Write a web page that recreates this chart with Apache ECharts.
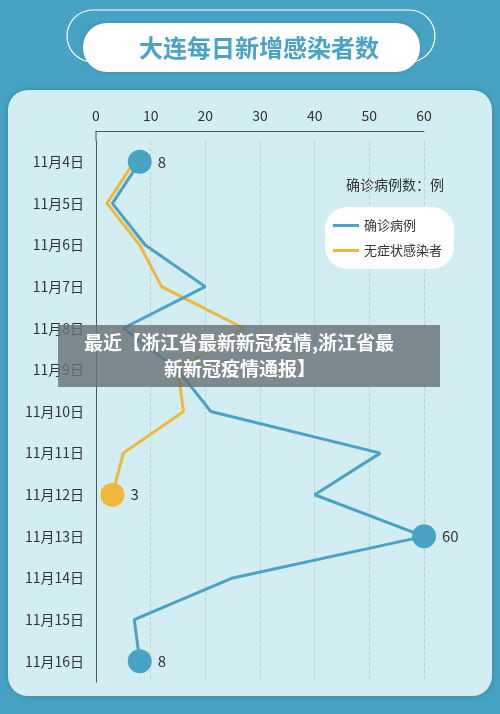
<!DOCTYPE html>
<html><head><meta charset="utf-8">
<script src="https://cdn.jsdelivr.net/npm/echarts@6/dist/echarts.min.js"></script>
<style>html,body{margin:0;padding:0;background:#47a3c4}#c{width:500px;height:714px}</style>
</head><body><div id="c"></div>
<script>
const categories=['11月4日','11月5日','11月6日','11月7日','11月8日','11月9日','11月10日','11月11日','11月12日','11月13日','11月14日','11月15日','11月16日'];
const confirmed=[8,3,9,20,5,15,21,52,40,60,25,7,8];
const asymptomatic=[7,2,8,12,27,15,16,5,3];
const xTicks=[0,10,20,30,40,50,60];
const F='"Noto Sans CJK SC","Noto Sans",sans-serif';
function mk(vals,marked){
  return vals.map((v,i)=>{
    return marked.includes(i)?{value:[v,categories[i]],symbol:'circle',symbolSize:24,
      label:{show:true,position:'right',distance:6,formatter:String(v),color:'#333',fontSize:15,fontFamily:F}}
      :{value:[v,categories[i]],symbolSize:0};
  });
}
const chart=echarts.init(document.getElementById('c'));
chart.setOption({
  backgroundColor:'#47a3c4',
  animation:false,
  graphic:[
    {type:'rect',z:-10,shape:{x:8,y:90,width:484,height:606,r:20},style:{fill:'#d2eef2',shadowBlur:6,shadowColor:'rgba(0,0,0,0.2)'}},
    {type:'rect',z:-9,shape:{x:67,y:10,width:368,height:52,r:26},style:{fill:'none',stroke:'#ffffff',lineWidth:1.2}},
    {type:'rect',z:-8,shape:{x:83,y:23,width:337,height:49,r:24},style:{fill:'#ffffff',shadowBlur:4,shadowColor:'rgba(0,0,0,0.15)'}},
    {type:'text',z:-7,style:{x:259,y:48,text:'大连每日新增感染者数',fill:'#4aa3c5',font:'bold 24px '+F,textAlign:'center',textVerticalAlign:'middle'}},
    {type:'line',shape:{x1:96,y1:131,x2:96,y2:141},style:{stroke:'#555',lineWidth:1}},
    {type:'text',style:{x:395,y:185,text:'确诊病例数：例',fill:'#333',font:'14px '+F,textAlign:'center',textVerticalAlign:'middle'}},
    {type:'rect',z:100,shape:{x:58,y:325,width:382,height:62},style:{fill:'rgba(105,115,120,0.82)'}},
    {type:'text',z:101,style:{x:239,y:343,text:'最近【浙江省最新新冠疫情,浙江省最',fill:'#fff',font:'bold 19px '+F,textAlign:'center',textVerticalAlign:'middle'}},
    {type:'text',z:101,style:{x:240,y:369,text:'新新冠疫情通报】',fill:'#fff',font:'bold 19px '+F,textAlign:'center',textVerticalAlign:'middle'}}
  ],
  legend:{orient:'vertical',left:325,top:207,padding:[12,12,12,8],backgroundColor:'#fff',borderRadius:22,
    itemWidth:26,itemHeight:3,itemGap:12,icon:'rect',
    textStyle:{color:'#333',fontSize:13,fontFamily:F},
    data:['确诊病例','无症状感染者']},
  grid:{left:96,right:76,top:141,bottom:32},
  xAxis:{type:'value',position:'top',offset:10,min:0,max:60,interval:10,
    axisLine:{show:true,lineStyle:{color:'#555'}},axisTick:{show:false},
    axisLabel:{color:'#333',fontSize:14,fontFamily:F,margin:8,formatter:v=>xTicks.includes(v)?String(v):''},
    splitLine:{show:true,lineStyle:{color:'#bcd3d8',type:'dashed'}}},
  yAxis:{type:'category',inverse:true,data:categories,boundaryGap:true,
    axisLine:{show:true,lineStyle:{color:'#555'}},axisTick:{show:false},
    axisLabel:{color:'#333',fontSize:14,fontFamily:F,margin:12}},
  series:[
    {name:'确诊病例',type:'line',data:mk(confirmed,[0,9,12]),color:'#4aa3c5',lineStyle:{width:3,color:'#4aa3c5'},itemStyle:{color:'#4aa3c5'},z:3},
    {name:'无症状感染者',type:'line',data:mk(asymptomatic,[asymptomatic.length-1]),color:'#f0b83a',lineStyle:{width:3,color:'#f0b83a'},itemStyle:{color:'#f0b83a'},z:2}
  ]
});
</script></body></html>
